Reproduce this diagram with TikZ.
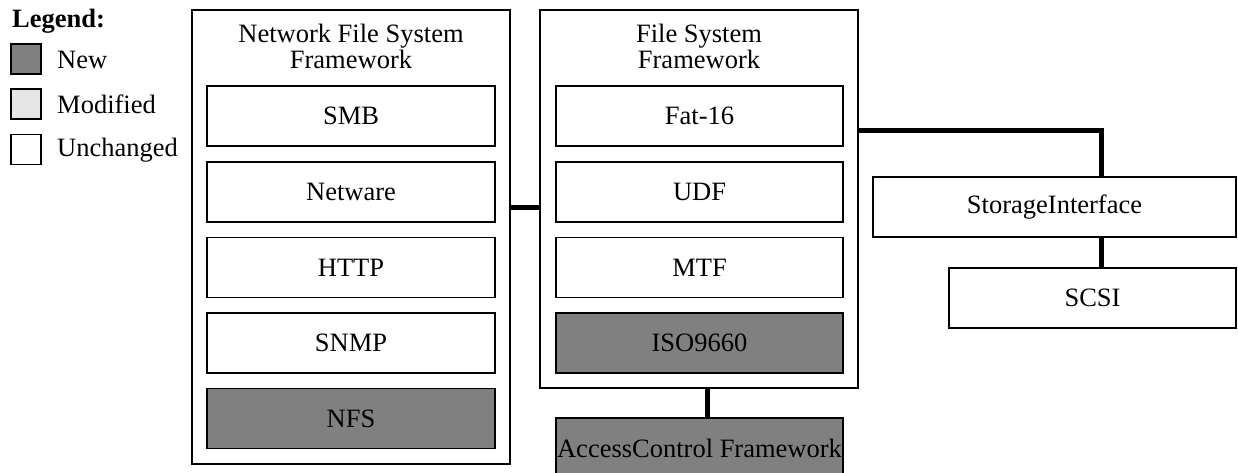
\documentclass[tikz,border=0pt]{standalone}
\usepackage{fontspec}
\setmainfont{Liberation Serif}
\definecolor{newgray}{HTML}{808080}
\definecolor{modgray}{HTML}{E6E6E6}
\begin{document}
\begin{tikzpicture}[x=1pt,y=-1pt,
  every node/.style={font=\fontsize{26.5}{27}\selectfont, inner sep=0pt},
  outerbox/.style={draw, line width=1.2pt, fill=white},
  comp/.style={draw, line width=1.3pt, fill=white, minimum height=60pt, align=center},
  newcomp/.style={comp, fill=newgray},
  legbox/.style={draw, line width=1.3pt, minimum width=30pt, minimum height=30pt},
  link/.style={line width=5pt}]
\clip (0,0) rectangle (1238,473);
\fill[white] (0,0) rectangle (1238,473);
% legend
\node[anchor=west, font=\fontsize{26.5}{27}\selectfont\bfseries] (legt) at (12,21) {Legend:};
\node[legbox, fill=newgray] (lnew) at (26,59) {};
\node[legbox, fill=modgray] (lmod) at (26,104) {};
\node[legbox, fill=white] (lunc) at (26,149.5) {};
\node[anchor=west] (tnew) at (57,59.5) {New};
\node[anchor=west] (tmod) at (57,104.5) {Modified};
\node[anchor=west] (tunc) at (57,150) {Unchanged};
% outer frameworks
\node[outerbox, minimum width=318pt, minimum height=454pt] (net) at (351,237) {};
\node[outerbox, minimum width=318pt, minimum height=378pt] (fs) at (699,199) {};
\node[align=center, font=\fontsize{26.5}{26}\selectfont] (nett) at (351,46.5) {Network File System\\Framework};
\node[align=center, font=\fontsize{26.5}{26}\selectfont] (fst) at (699,46.5) {File System\\Framework};
% network inner
\node[comp, minimum width=288pt] (smb) at (351,116) {SMB};
\node[comp, minimum width=288pt] (netw) at (351,192) {Netware};
\node[comp, minimum width=288pt] (http) at (351,267.5) {HTTP};
\node[comp, minimum width=288pt] (snmp) at (351,343) {SNMP};
\node[newcomp, minimum width=288pt] (nfs) at (351,418.5) {NFS};
% fs inner
\node[comp, minimum width=287pt] (fat) at (699.5,116) {Fat-16};
\node[comp, minimum width=287pt] (udf) at (699.5,192) {UDF};
\node[comp, minimum width=287pt] (mtf) at (699.5,267.5) {MTF};
\node[newcomp, minimum width=287pt] (iso) at (699.5,343) {ISO9660};
% others
\node[newcomp, minimum width=287pt] (ac) at (699.5,448) {AccessControl Framework};
\node[comp, minimum width=363pt] (si) at (1054.5,207) {StorageInterface};
\node[comp, minimum width=287pt] (scsi) at (1092.5,298) {SCSI};
% connectors
\draw[link] (net.east |- 0,207) -- (fs.west |- 0,207);
\draw[link] (fs.east |- 0,131) -| (si.north -| 1101,0);
\draw[link] (si.south -| 1101,0) -- (scsi.north -| 1101,0);
\draw[link] (fs.south -| 707,0) -- (ac.north -| 707,0);
\end{tikzpicture}
\end{document}
